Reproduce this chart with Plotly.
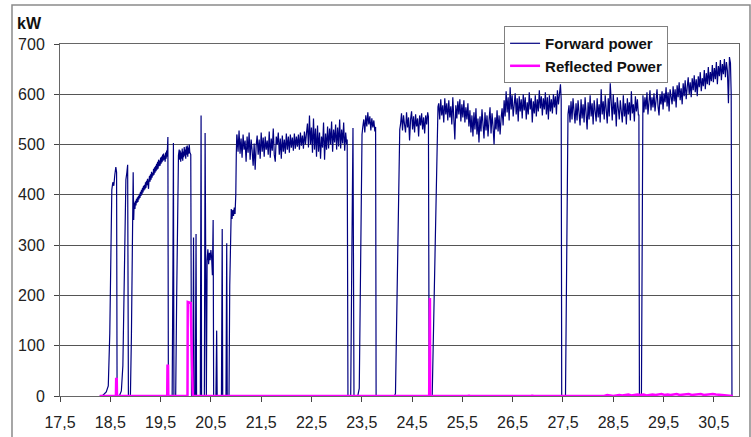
import plotly.graph_objects as go

# ---- Forward power (kW) ----
# start-up pulses, explicit (time, kW) pairs
startup_t = [18.29, 18.36, 18.42, 18.46, 18.49, 18.51, 18.53, 18.55, 18.57, 18.59, 18.61, 18.625, 18.635,
             18.68, 18.72, 18.75, 18.77, 18.79, 18.81, 18.83, 18.845, 18.86,
             18.90, 18.92, 18.94, 18.955, 18.965, 18.975]
startup_kw = [0, 2, 8, 20, 125, 290, 410, 425, 418, 440, 455, 445, 0,
              0, 10, 60, 180, 330, 430, 445, 460, 0,
              0, 120, 380, 445, 350, 385]

# ramp 18.98 .. 19.63, logged every 0.01
ramp_t0, ramp_dt = 18.98, 0.01
ramp_kw = [380, 372, 388, 379, 392, 384, 395, 386, 398, 391,
           402, 394, 406, 398, 410, 401, 414, 405, 418, 409,
           420, 411, 425, 414, 428, 419, 432, 422, 412, 430,
           438, 426, 441, 430, 446, 434, 444, 438, 452, 440,
           455, 444, 458, 447, 462, 450, 466, 452, 470, 457,
           468, 458, 474, 462, 476, 465, 480, 468, 482, 470,
           478, 466, 484, 472, 488, 476]

# trips and restarts 19.6 .. 21.0
burst_t = [19.645, 19.655, 19.73, 19.745, 19.755, 19.765, 19.80, 19.82, 19.84, 19.855,
           19.87, 19.88, 19.89, 19.90, 19.91, 19.92, 19.93, 19.94, 19.95, 19.96,
           19.97, 19.98, 19.99, 20.00, 20.01, 20.02, 20.03, 20.04, 20.05, 20.06,
           20.07, 20.08, 20.10, 20.115,
           20.14, 20.155, 20.165, 20.19, 20.205, 20.215, 20.29, 20.305, 20.315, 20.37,
           20.385, 20.395, 20.41, 20.425, 20.44, 20.455, 20.47, 20.485, 20.50, 20.515,
           20.53, 20.545, 20.555, 20.60, 20.615, 20.625, 20.71, 20.725, 20.735, 20.80,
           20.815, 20.825, 20.86, 20.875, 20.89, 20.905, 20.92, 20.935, 20.95, 20.965,
           20.98, 20.995, 21.005, 21.015]
burst_kw = [515, 0, 0, 250, 503, 0, 0, 200, 420, 478,
            490, 470, 488, 466, 484, 472, 492, 468, 486, 475,
            495, 478, 490, 472, 496, 480, 498, 476, 494, 482,
            500, 485, 480, 0,
            0, 315, 0, 0, 322, 0, 0, 558, 0, 0,
            523, 0, 0, 270, 292, 262, 285, 270, 290, 275,
            240, 350, 0, 0, 130, 0, 0, 332, 0, 0,
            304, 0, 0, 220, 362, 372, 352, 370, 358, 375,
            362, 400, 480, 520]

# steady runs, logged every 0.02
run_dt = 0.02
run1_t0 = 21.02
run1_kw = [518, 486, 528, 482, 512, 474, 520, 490, 508, 466,
           516, 484, 524, 470, 510, 488, 458, 502, 450, 498,
           518, 480, 510, 472, 524, 486, 514, 476, 516, 490,
           508, 480, 526, 474, 512, 488, 532, 480, 466, 516,
           500, 524, 480, 512, 472, 518, 486, 510, 482, 522,
           490, 516, 484, 520, 494, 514, 488, 522, 492, 516,
           496, 520, 490, 524, 498, 518, 492, 526, 500, 522,
           542, 494, 558, 500, 534, 484, 552, 490, 532, 476,
           538, 486, 524, 472, 516, 494, 544, 470, 522, 490,
           536, 492, 532, 500, 546, 486, 530, 504, 540, 490,
           534, 496, 550, 492, 530, 502, 544, 488, 524, 500]

gap1_t = [23.21, 23.225, 23.28, 23.30, 23.31, 23.325, 23.345, 23.42, 23.45, 23.47, 23.49, 23.505]
gap1_kw = [510, 0, 0, 250, 400, 533, 0, 0, 15, 250, 430, 520]

run2_t0 = 23.52
run2_kw = [535, 550, 524, 558, 536, 564, 540, 556, 528, 552, 534, 548, 526]

gap2_t = [23.775, 23.785, 24.15, 24.17, 24.20, 24.235, 24.255]
gap2_kw = [535, 0, 0, 5, 200, 450, 530]

run3_t0 = 24.27
run3_kw = [540, 562, 528, 558, 540, 524, 564, 534, 554, 508,
           550, 566, 530, 556, 524, 560, 536, 552, 516, 558,
           538, 562, 530, 554, 522, 558, 540, 564]

gap3_t = [24.825, 24.84, 24.90, 24.93, 24.97, 25.00, 25.015]
gap3_kw = [555, 0, 0, 150, 380, 555, 575]

run4_t0 = 25.03
run4_kw = [582, 550, 590, 558, 578, 544, 592, 560, 582, 548,
           588, 554, 576, 540, 594, 562, 510, 578, 552, 586,
           560, 590, 546, 580, 554, 588, 544, 574, 550, 582,
           536, 568, 524, 558, 516, 564, 530, 572, 520, 552,
           504, 556, 526, 570, 532, 512, 564, 528, 558, 516,
           548, 574, 522, 562, 536, 500, 554, 530, 568, 526,
           558, 520, 552, 572, 538,
           588, 556, 606, 564, 594, 548, 614, 570, 598, 556,
           584, 602, 560, 592, 546, 596, 566, 590, 552, 600,
           568, 594, 550, 584, 560, 604, 570, 592, 544, 586,
           562, 598, 556, 590, 566, 608, 572, 596, 558, 592,
           570, 604, 560, 594, 550, 598, 566, 590, 562, 600,
           574, 596, 560, 608, 580, 600, 620]

gap4_t = [27.465, 27.475, 27.55, 27.575, 27.60]
gap4_kw = [590, 0, 0, 280, 560]

run5_t0 = 27.62
run5_kw = [578, 544, 586, 550, 592, 556, 542, 582, 548, 588,
           558, 538, 590, 552, 580, 544, 594, 560, 530, 584,
           550, 598, 556, 582, 540, 588, 562, 546, 592, 554,
           580, 544, 610, 560, 586, 550, 598, 564, 542, 592,
           556, 622, 570, 548, 600, 560, 584, 536, 594, 562,
           550, 588, 566, 544, 598, 556, 582, 540, 592, 560,
           584, 548, 606, 562, 580, 546, 596, 566, 590, 558]

gap5_t = [29.01, 29.02, 29.06, 29.075, 29.085]
gap5_kw = [560, 0, 0, 300, 560]

run6_t0 = 29.09
run6_kw = [598, 564, 594, 570, 604, 560, 590, 608, 568, 594,
           574, 602, 566, 596, 610, 576, 558, 600, 580, 606,
           570, 602, 584, 614, 576, 604, 566, 610, 588, 580,
           616, 586, 610, 574, 618, 594, 624, 588, 612, 580,
           622, 596, 628, 590, 614, 634, 600, 624, 594, 632,
           608, 638, 604, 630, 596, 636, 614, 644, 606, 632,
           616, 648, 610, 642, 620, 654, 618, 644, 626, 658,
           624, 652, 630, 664, 620, 656, 636, 668, 628, 660,
           640, 670, 634, 664, 646, 582, 674, 662]

end_t = [30.845, 30.86, 30.88]
end_kw = [600, 0, 0]

# ---- Reflected power (kW) ----
refl_t = [18.29, 18.612, 18.617, 18.628, 18.633, 19.632, 19.637, 19.648, 19.653,
          20.035, 20.04, 20.10, 20.108, 20.125, 20.133, 20.14,
          24.84, 24.845, 24.855, 24.86,
          25.62, 25.63, 25.64, 26.88, 26.89, 26.90, 28.10]
refl_kw = [0, 0, 34, 34, 0, 0, 60, 60, 0,
           0, 187, 185, 140, 65, 20, 0,
           0, 195, 195, 0,
           0, 2, 0, 0, 2, 0, 0]
refl_tail_t0, refl_tail_dt = 28.14, 0.06
refl_tail_kw = [1, 0, 1, 0, 2, 1, 0, 1, 2, 1,
                2, 3, 1, 2, 3, 2, 3, 1, 2, 3,
                2, 3, 4, 2, 3, 2, 3, 4, 2, 3,
                3, 4, 2, 3, 3, 4, 2, 3, 3, 4,
                3, 3, 2]
refl_end_t = [30.86, 30.88]
refl_end_kw = [0, 0]

x_ticks = [17.5, 18.5, 19.5, 20.5, 21.5, 22.5, 23.5, 24.5, 25.5, 26.5, 27.5, 28.5, 29.5, 30.5]
x_tick_text = ["17,5", "18,5", "19,5", "20,5", "21,5", "22,5", "23,5", "24,5", "25,5",
               "26,5", "27,5", "28,5", "29,5", "30,5"]
y_ticks = [0, 100, 200, 300, 400, 500, 600, 700]


def run_times(t0, dt, values):
    return [round(t0 + i * dt, 4) for i in range(len(values))]


fwd_t, fwd_kw = [], []
for t_part, kw_part in [
    (startup_t, startup_kw),
    (run_times(ramp_t0, ramp_dt, ramp_kw), ramp_kw),
    (burst_t, burst_kw),
    (run_times(run1_t0, run_dt, run1_kw), run1_kw),
    (gap1_t, gap1_kw),
    (run_times(run2_t0, run_dt, run2_kw), run2_kw),
    (gap2_t, gap2_kw),
    (run_times(run3_t0, run_dt, run3_kw), run3_kw),
    (gap3_t, gap3_kw),
    (run_times(run4_t0, run_dt, run4_kw), run4_kw),
    (gap4_t, gap4_kw),
    (run_times(run5_t0, run_dt, run5_kw), run5_kw),
    (gap5_t, gap5_kw),
    (run_times(run6_t0, run_dt, run6_kw), run6_kw),
    (end_t, end_kw),
]:
    fwd_t += list(t_part)
    fwd_kw += list(kw_part)

r_t = refl_t + run_times(refl_tail_t0, refl_tail_dt, refl_tail_kw) + refl_end_t
r_kw = refl_kw + refl_tail_kw + refl_end_kw

FONT = "Liberation Sans, Arial, sans-serif"

fig = go.Figure()
fig.add_trace(go.Scatter(
    x=fwd_t, y=fwd_kw, mode="lines", name="Forward power",
    line=dict(color="#000080", width=1.2),
))
fig.add_trace(go.Scatter(
    x=r_t, y=r_kw, mode="lines", name="Reflected Power",
    line=dict(color="#ff00ff", width=2.5),
))

fig.update_layout(
    width=751, height=437,
    margin=dict(l=60, r=12, t=44, b=41),
    paper_bgcolor="white", plot_bgcolor="white",
    showlegend=True,
    legend=dict(
        x=0.654, y=1.051, xanchor="left", yanchor="top",
        bgcolor="white", bordercolor="#808080", borderwidth=1,
        font=dict(family=FONT, size=15, color="#111111", weight="bold"),
        itemwidth=30, tracegroupgap=0,
    ),
    font=dict(family=FONT, size=16, color="#222222"),
    shapes=[dict(type="rect", xref="paper", yref="paper",
                 x0=-0.0707, x1=1.0162, y0=-0.14, y1=1.1108,
                 line=dict(color="#8a8a8a", width=1.5), layer="below")],
    annotations=[dict(text="<b>kW</b>", xref="paper", yref="paper",
                      x=-0.066, y=1.057, xanchor="left", yanchor="middle",
                      showarrow=False, font=dict(family=FONT, size=16, color="#111111"))],
)

fig.update_xaxes(
    range=[17.5, 31.0], tickmode="array", tickvals=x_ticks, ticktext=x_tick_text,
    showgrid=False, zeroline=False, automargin=False,
    showline=True, linecolor="#666666", linewidth=1, mirror=True,
    ticks="outside", ticklen=5, tickcolor="#444444",
    ticklabelstandoff=7,
    tickfont=dict(family=FONT, size=16, color="#222222"),
)
fig.update_yaxes(
    range=[0, 700], tickmode="array", tickvals=y_ticks,
    showgrid=True, gridcolor="#555555", gridwidth=1, zeroline=False, automargin=False,
    showline=True, linecolor="#666666", linewidth=1, mirror=True,
    ticks="outside", ticklen=5, tickcolor="#444444",
    ticklabelstandoff=6,
    tickfont=dict(family=FONT, size=16, color="#222222"),
)

fig.write_html("out.html")
